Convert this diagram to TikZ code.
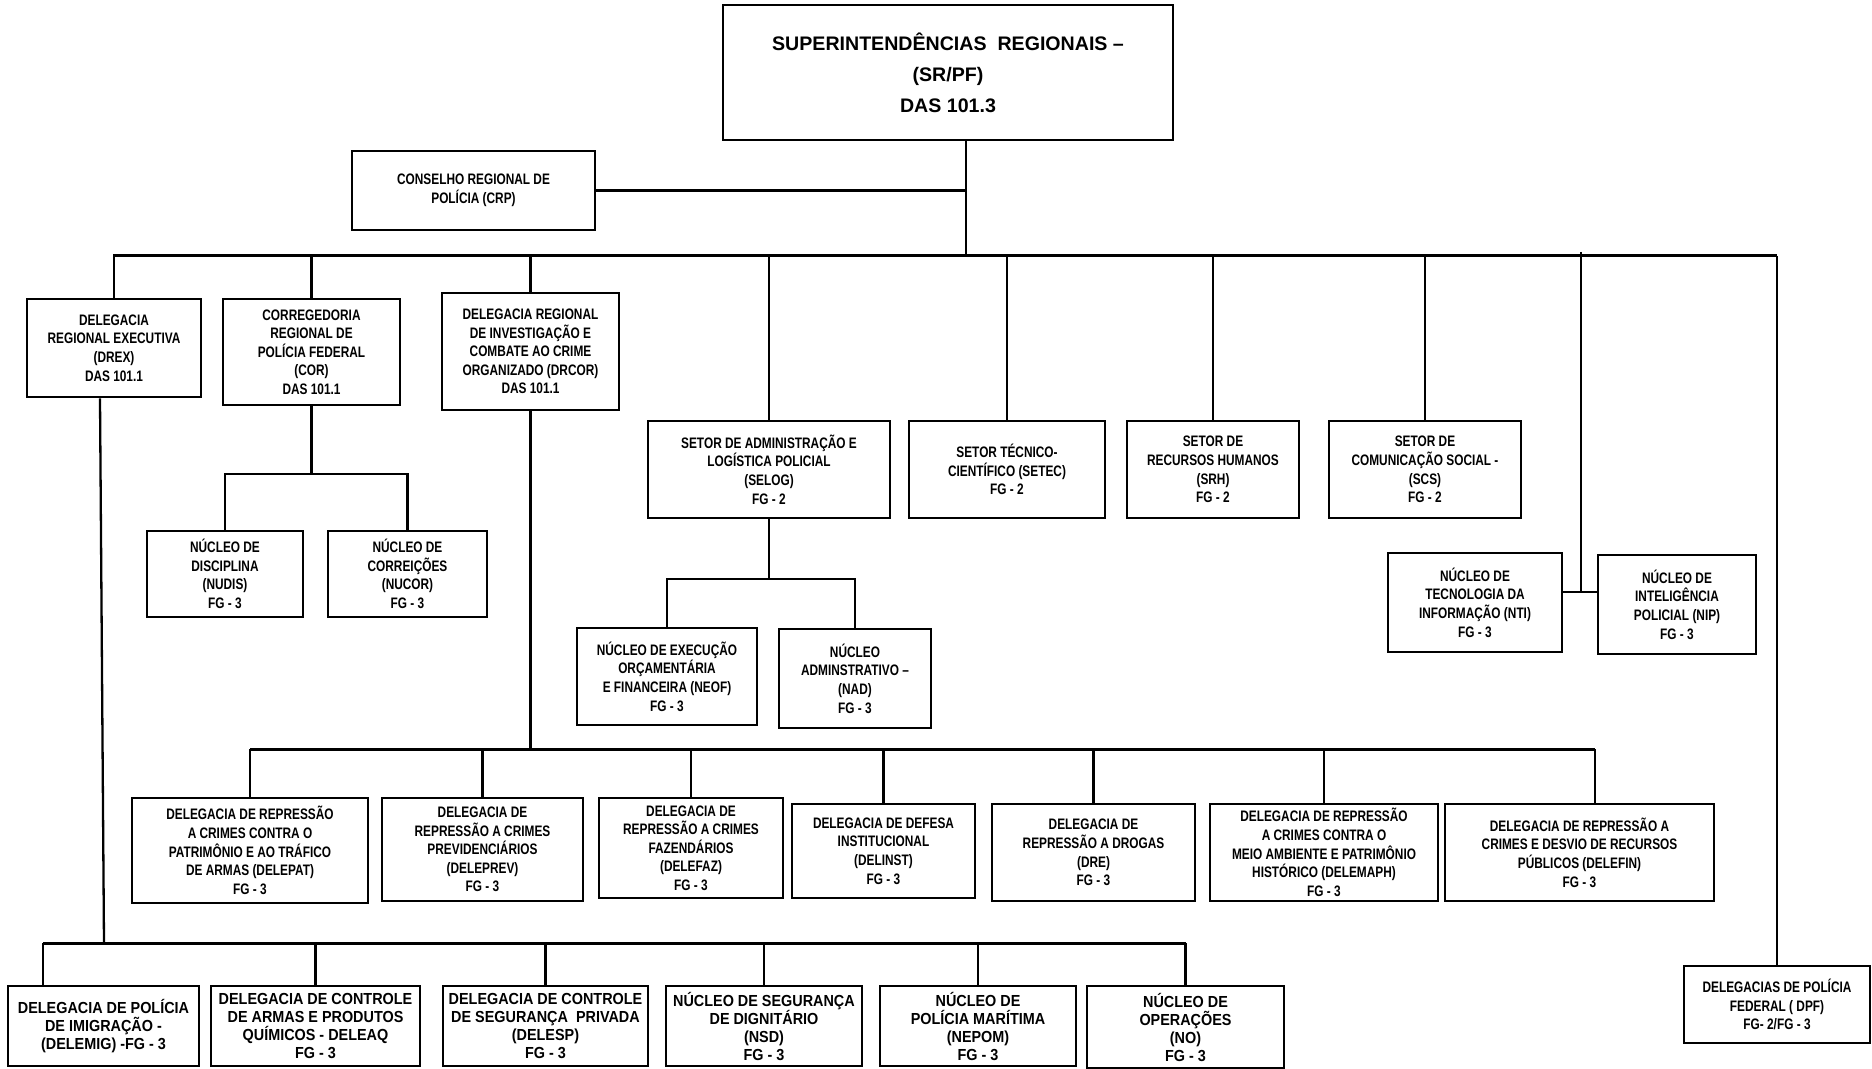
\documentclass[tikz,border=0pt]{standalone}
\usepackage{fontspec}
\setmainfont{Liberation Sans}[FakeStretch=0.78]
\newfontfamily\lowfont{Liberation Sans}[FakeStretch=0.9]
\newfontfamily\titlefont{Liberation Sans}
\tikzset{
  orgbox/.style={draw, line width=1.3pt, align=center, inner sep=1pt,
    font=\bfseries\fontsize{7.6}{9.3}\selectfont},
  lowbox/.style={orgbox, font=\lowfont\bfseries\fontsize{8}{9}\selectfont},
  titlebox/.style={orgbox, font=\titlefont\bfseries\fontsize{9.8}{15.5}\selectfont},
  link/.style={line width=1.15pt},
  bus/.style={line width=1.5pt}
}
\begin{document}
\begin{tikzpicture}[x=0.5pt,y=-0.5pt]
    \useasboundingbox (0,0) rectangle (1872,1069);
    \node[titlebox, minimum width=225pt, minimum height=67.5pt] (sr) at (948,72.5) {SUPERINTENDÊNCIAS\ \ REGIONAIS –\\(SR/PF)\\DAS 101.3};
    \node[orgbox, minimum width=121.5pt, minimum height=39.5pt] (crp) at (473.5,190.5) {CONSELHO REGIONAL DE\\POLÍCIA (CRP)};
    \node[orgbox, minimum width=87pt, minimum height=49pt] (drex) at (114,348) {DELEGACIA\\REGIONAL EXECUTIVA\\(DREX)\\DAS 101.1};
    \node[orgbox, minimum width=88.5pt, minimum height=53pt] (cor) at (311.5,352) {CORREGEDORIA\\REGIONAL DE\\POLÍCIA FEDERAL\\(COR)\\DAS 101.1};
    \node[orgbox, minimum width=88.5pt, minimum height=58.5pt] (drcor) at (530.5,351.5) {DELEGACIA REGIONAL\\DE INVESTIGAÇÃO E\\COMBATE AO CRIME\\ORGANIZADO (DRCOR)\\DAS 101.1};
    \node[orgbox, minimum width=121pt, minimum height=48.5pt] (selog) at (769,469.5) {SETOR DE ADMINISTRAÇÃO E\\LOGÍSTICA POLICIAL\\(SELOG)\\FG - 2};
    \node[orgbox, minimum width=98pt, minimum height=48.5pt] (setec) at (1007,469.5) {SETOR TÉCNICO-\\CIENTÍFICO (SETEC)\\FG - 2};
    \node[orgbox, minimum width=86pt, minimum height=48.5pt] (srh) at (1213,469.5) {SETOR DE\\RECURSOS HUMANOS\\(SRH)\\FG - 2};
    \node[orgbox, minimum width=96pt, minimum height=48.5pt] (scs) at (1425,469.5) {SETOR DE\\COMUNICAÇÃO SOCIAL -\\(SCS)\\FG - 2};
    \node[orgbox, minimum width=87pt, minimum height=49.5pt] (nti) at (1475,602.5) {NÚCLEO DE\\TECNOLOGIA DA\\INFORMAÇÃO (NTI)\\FG - 3};
    \node[orgbox, minimum width=79pt, minimum height=49.5pt] (nip) at (1677,604.5) {NÚCLEO DE\\INTELIGÊNCIA\\POLICIAL (NIP)\\FG - 3};
    \node[orgbox, minimum width=78pt, minimum height=43pt] (nudis) at (225,574) {NÚCLEO DE\\DISCIPLINA\\(NUDIS)\\FG - 3};
    \node[orgbox, minimum width=79.5pt, minimum height=43pt] (nucor) at (407.5,574) {NÚCLEO DE\\CORREIÇÕES\\(NUCOR)\\FG - 3};
    \node[orgbox, minimum width=90pt, minimum height=48.5pt] (neof) at (667,676.5) {NÚCLEO DE EXECUÇÃO\\ORÇAMENTÁRIA\\E FINANCEIRA (NEOF)\\FG - 3};
    \node[orgbox, minimum width=76pt, minimum height=49.5pt] (nad) at (855,678.5) {NÚCLEO\\ADMINSTRATIVO –\\(NAD)\\FG - 3};
    \node[orgbox, minimum width=118pt, minimum height=52.5pt] (delepat) at (250,850.5) {DELEGACIA DE REPRESSÃO\\A CRIMES CONTRA O\\PATRIMÔNIO E AO TRÁFICO\\DE ARMAS (DELEPAT)\\FG - 3};
    \node[orgbox, minimum width=100.5pt, minimum height=51.5pt] (deleprev) at (482.5,849.5) {DELEGACIA DE\\REPRESSÃO A CRIMES\\PREVIDENCIÁRIOS\\(DELEPREV)\\FG - 3};
    \node[orgbox, minimum width=92pt, minimum height=50pt] (delefaz) at (691,848) {DELEGACIA DE\\REPRESSÃO A CRIMES\\FAZENDÁRIOS\\(DELEFAZ)\\FG - 3};
    \node[orgbox, minimum width=91.5pt, minimum height=47pt] (delinst) at (883.5,851) {DELEGACIA DE DEFESA\\INSTITUCIONAL\\(DELINST)\\FG - 3};
    \node[orgbox, minimum width=101.5pt, minimum height=48.5pt] (dre) at (1093.5,852.5) {DELEGACIA DE\\REPRESSÃO A DROGAS\\(DRE)\\FG - 3};
    \node[orgbox, minimum width=114pt, minimum height=48.5pt] (delemaph) at (1324,852.5) {DELEGACIA DE REPRESSÃO\\A CRIMES CONTRA O\\MEIO AMBIENTE E PATRIMÔNIO\\HISTÓRICO (DELEMAPH)\\FG - 3};
    \node[orgbox, minimum width=134.5pt, minimum height=48.5pt] (delefin) at (1579.5,852.5) {DELEGACIA DE REPRESSÃO A\\CRIMES E DESVIO DE RECURSOS\\PÚBLICOS (DELEFIN)\\FG - 3};
    \node[orgbox, minimum width=93pt, minimum height=38.5pt] (dpf) at (1777,1004.5) {DELEGACIAS DE POLÍCIA\\FEDERAL ( DPF)\\FG- 2/FG - 3};
    \node[lowbox, minimum width=95.5pt, minimum height=40pt] (delemig) at (103.5,1026) {DELEGACIA DE POLÍCIA\\DE IMIGRAÇÃO -\\(DELEMIG) -FG - 3};
    \node[lowbox, minimum width=104.5pt, minimum height=40pt] (deleaq) at (315.5,1026) {DELEGACIA DE CONTROLE\\DE ARMAS E PRODUTOS\\QUÍMICOS - DELEAQ\\FG - 3};
    \node[lowbox, minimum width=102.5pt, minimum height=40pt] (delesp) at (545.5,1026) {DELEGACIA DE CONTROLE\\DE SEGURANÇA\ \ PRIVADA\\(DELESP)\\FG - 3};
    \node[lowbox, minimum width=98pt, minimum height=40pt] (nsd) at (764,1026) {NÚCLEO DE SEGURANÇA\\DE DIGNITÁRIO\\(NSD)\\FG - 3};
    \node[lowbox, minimum width=98pt, minimum height=40pt] (nepom) at (978,1026) {NÚCLEO DE\\POLÍCIA MARÍTIMA\\(NEPOM)\\FG - 3};
    \node[lowbox, minimum width=98.5pt, minimum height=41pt] (nop) at (1185.5,1027) {NÚCLEO DE\\OPERAÇÕES\\(NO)\\FG - 3};
    \coordinate (srbus) at (966,256);
    \coordinate (busL) at (113,256);
    \coordinate (busR) at (1777,256);
    \draw[bus] (busL) -- (busR);
    \draw[link] (sr.south -| srbus) -- (srbus);
    \draw[link] (crp.east) -- (crp.east -| srbus);
    \foreach \n in {drex,cor,drcor,selog,setec,srh,scs}
        \draw[link] (\n.north) -- (\n.north |- busL);
    \draw[link] (busR) -- (dpf.north);
    \coordinate (nutop) at (1581,252);
    \coordinate (nujoin) at (1581,592);
    \draw[link] (nutop) -- (nujoin);
    \draw[link] (nti.east |- nujoin) -- (nip.west |- nujoin);
    \coordinate (corbus) at (316,474);
    \draw[link] (cor.south) -- (cor.south |- corbus);
    \draw[link] (nudis.north) |- (nucor.north |- corbus) -- (nucor.north);
    \coordinate (selbus) at (765,579);
    \draw[link] (selog.south) -- (selog.south |- selbus);
    \draw[link] (neof.north) |- (nad.north |- selbus) -- (nad.north);
    \coordinate (drbus) at (530,749);
    \coordinate (finbus) at (1595,749);
    \draw[link] (drcor.south) -- (drcor.south |- drbus);
    \draw[bus] (delepat.north |- drbus) -- (finbus);
    \foreach \n in {delepat,deleprev,delefaz,delinst,dre,delemaph}
        \draw[link] (\n.north) -- (\n.north |- drbus);
    \draw[link] (finbus) -- (finbus |- delefin.north);
    \coordinate (dxbus) at (104,943);
    \coordinate (dxleft) at (43,943);
    \draw[link] ([xshift=-7pt]drex.south) -- (dxbus);
    \draw[bus] (dxleft) -- (nop.north |- dxbus);
    \draw[link] (dxleft) -- (dxleft |- delemig.north);
    \foreach \n in {deleaq,delesp,nsd,nepom,nop}
        \draw[link] (\n.north) -- (\n.north |- dxbus);
\end{tikzpicture}
\end{document}
